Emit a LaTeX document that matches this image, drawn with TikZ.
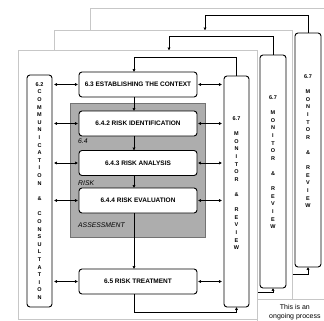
\documentclass[tikz,border=0pt]{standalone}
\usepackage{fontspec}
\setmainfont{Liberation Sans}
\usetikzlibrary{arrows.meta, positioning}
\newcommand*{\monrev}{6.7\\[7.6pt]M\\O\\N\\I\\T\\O\\R\\[7.6pt]\&\\[7.6pt]R\\E\\V\\I\\E\\W}

\begin{document}
\begin{tikzpicture}[x=1pt,y=-1pt,>={Stealth[round,length=3.5pt,width=3.5pt]},
      pagebox/.style={draw=black!22,fill=white,line width=0.8pt,anchor=north west,inner sep=0pt},
      proc/.style={draw,fill=white,line width=0.9pt,rounded corners=3pt,minimum width=118pt,
        minimum height=25pt,inner sep=0pt,font=\fontsize{6.5}{7}\selectfont\bfseries},
      tall/.style={draw,fill=white,line width=0.9pt,rounded corners=3pt,minimum width=25pt,inner sep=1pt},
      letters/.style={align=center,inner sep=0pt,font=\fontsize{5.5}{7.6}\selectfont\bfseries},
      tag/.style={anchor=west,inner sep=0pt,font=\fontsize{6.8}{7}\selectfont\itshape},
      link/.style={line width=0.8pt}]
  \useasboundingbox (0,0) rectangle (324,321);
  \clip (0,0) rectangle (324,321);
  \fill[white] (0,0) rectangle (324,321);

  % back sheet
  \node[pagebox,minimum width=240pt,minimum height=292pt] (back) at (90,8) {};
  \node[tall,minimum width=26pt,minimum height=234pt] (backmon) at (308,150) {};
  \node[letters,below=42pt of backmon.north] (backlab) {\monrev};
  \coordinate (backhit) at (205,30);
  \coordinate (backfoot) at (292,274);
  \draw[link,->] (backmon.north) -- ++(0,-17) -| (backhit);
  \draw[link,->] (backfoot) -| (backmon.south);

  % middle sheet
  \node[pagebox,minimum width=238pt,minimum height=285pt] (middle) at (54,30) {};
  \node[tall,minimum width=26pt,minimum height=233pt] (midmon) at (273,171.5) {};
  \node[letters,below=41pt of midmon.north] (midlab) {\monrev};
  \coordinate (midhit) at (169,50);
  \coordinate (midfoot) at (257,292);
  \draw[link,->] (midmon.north) -- ++(0,-18) -| (midhit);
  \draw[link,->] (midfoot) -| (midmon.south);

  % front sheet
  \node[pagebox,minimum width=239pt,minimum height=269pt] (front) at (18,50) {};
  \node[letters,tall,minimum height=232pt] (comm) at (39.5,191)
    {6.2\\C\\O\\M\\M\\U\\N\\I\\C\\A\\T\\I\\O\\N\\[7.8pt]\&\\[7.8pt]C\\O\\N\\S\\U\\L\\T\\A\\T\\I\\O\\N};
  \node[tall,minimum height=231pt] (frontmon) at (236.5,191.5) {};
  \node[letters,below=41pt of frontmon.north] (frontlab) {\monrev};

  \node[draw=black!55,fill=black!32,line width=0.9pt,minimum width=135pt,minimum height=134pt,
    anchor=north west,inner sep=0pt] (assess) at (70,103) {};
  \node[proc] (ctx) at (138,84.5) {6.3 ESTABLISHING THE CONTEXT};
  \node[proc] (ident) at (138,123.5) {6.4.2 RISK IDENTIFICATION};
  \node[proc] (analysis) at (138,163) {6.4.3 RISK ANALYSIS};
  \node[proc] (evaluation) at (138,200.5) {6.4.4 RISK EVALUATION};
  \node[proc] (treatment) at (138,281.5) {6.5 RISK TREATMENT};
  \node[tag] (tag64) at (78,141) {6.4};
  \node[tag] (tagrisk) at (78,183) {RISK};
  \node[tag] (tagassess) at (78,225) {ASSESSMENT};

  \coordinate (spine) at (134,0);
  \draw[link,->] (frontmon.north) -- ++(0,-18) -| (ctx.north -| spine);
  \foreach \a/\b in {ctx/ident,ident/analysis,analysis/evaluation,evaluation/treatment}
    \draw[link,->] (\a.south -| spine) -- (\b.north -| spine);
  \draw[link,->] (treatment.south -| spine) -- ++(0,18) -| (frontmon.south);
  \foreach \s in {ctx,ident,analysis,evaluation,treatment} {
    \draw[link,<->,shorten <=2pt,shorten >=1pt] (comm.east |- \s.west) -- (\s.west);
    \draw[link,<->,shorten <=1pt,shorten >=2pt] (\s.east) -- (frontmon.west |- \s.east);
  }

  \node[draw=black!22,fill=white,line width=0.8pt,minimum width=75pt,minimum height=26pt,
    anchor=north west,align=center,font=\fontsize{7}{9}\selectfont] (note) at (257,299)
    {This is an\\ongoing process};
\end{tikzpicture}
\end{document}
